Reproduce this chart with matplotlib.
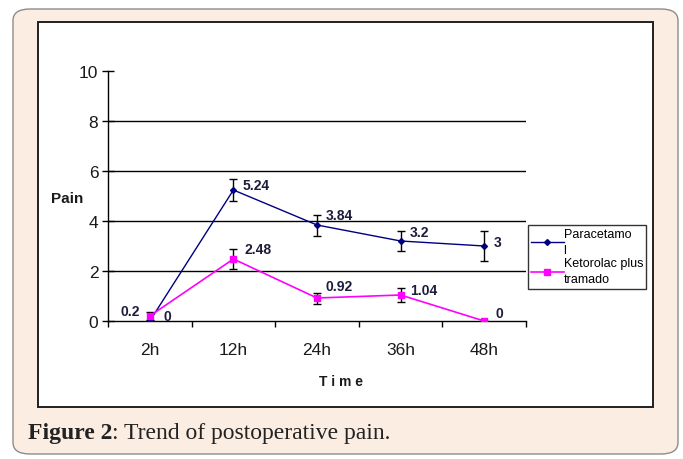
import numpy as np
import matplotlib.pyplot as plt
from matplotlib.patches import FancyBboxPatch, Rectangle
from matplotlib.lines import Line2D

times = ["2h", "12h", "24h", "36h", "48h"]
paracetamol = [0, 5.24, 3.84, 3.2, 3]
paracetamol_err = [0, 0.45, 0.42, 0.4, 0.6]
ketorolac = [0.2, 2.48, 0.92, 1.04, 0]
ketorolac_err = [0.15, 0.4, 0.22, 0.28, 0]

W, H = 683, 460
fig = plt.figure(figsize=(W / 100, H / 100), dpi=100)
fig.patch.set_facecolor("white")

def px(x, y):
    # pixel position (from top-left) -> figure fraction
    return x / W, 1 - y / H

# page background card
card = FancyBboxPatch(px(13, 455), (678 - 13) / W, (455 - 10) / H,
                      boxstyle="round,pad=0,rounding_size=0.025",
                      transform=fig.transFigure, facecolor="#fcede2",
                      edgecolor="#8c8c8c", linewidth=1.0, zorder=-2)
fig.patches.append(card)
inner = Rectangle(px(38, 408), (653 - 38) / W, (408 - 23) / H,
                  transform=fig.transFigure, facecolor="white",
                  edgecolor="#202020", linewidth=1.4, zorder=-1)
fig.patches.append(inner)

cap1 = fig.text(28 / W, 1 - 434 / H, "Figure 2", fontsize=17, fontweight="bold",
                family="Liberation Serif", color="#222222", va="center")
renderer = fig.canvas.get_renderer()
x_end = cap1.get_window_extent(renderer).x1
fig.text(x_end / W, 1 - 434 / H, ": Trend of postoperative pain.", fontsize=17,
         family="Liberation Serif", color="#222222", va="center")

l, b = px(108, 322)
r, t = px(526, 72)
ax = fig.add_axes([l, b, r - l, t - b])
ax.set_facecolor("none")
ax.set_zorder(2)
x = np.arange(len(times))

ax.set_ylim(0, 10)
ax.set_xlim(-0.5, len(times) - 0.5)
for g in [2, 4, 6, 8]:
    ax.axhline(g, color="black", lw=1.0, zorder=1)

ax.errorbar(x, paracetamol, yerr=paracetamol_err, color="#000080", lw=1.0,
            marker="D", ms=3, ecolor="black", elinewidth=1.0, capsize=3,
            capthick=1.0, zorder=3)
ax.errorbar(x, ketorolac, yerr=ketorolac_err, color="#ff00ff", lw=1.2,
            marker="s", ms=4, ecolor="black", elinewidth=1.0, capsize=3,
            capthick=1.0, zorder=3)

lab = dict(fontsize=10, fontweight="bold", color="#1c1c3c",
           family="Liberation Sans", textcoords="offset points", va="center")
para_off = [(10, 3.6), (6.5, 3.6), (6.5, 7.2), (6.5, 6.5), (6.5, 3)]
keto_off = [(-7, 3.6), (8, 7.2), (6, 8.6), (6.5, 3.6), (8, 5.8)]
for i, v in enumerate(paracetamol):
    ax.annotate(f"{v:g}", (x[i], v), xytext=para_off[i], ha="left", **lab)
for i, v in enumerate(ketorolac):
    ax.annotate(f"{v:g}", (x[i], v), xytext=keto_off[i],
                ha="right" if i == 0 else "left", **lab)

for s in ["top", "right"]:
    ax.spines[s].set_visible(False)
ax.spines["left"].set_linewidth(1.0)
ax.spines["bottom"].set_linewidth(1.0)
ax.set_yticks([0, 2, 4, 6, 8, 10])
ax.tick_params(axis="y", direction="inout", length=8, width=1.0,
               labelsize=12.5, pad=3)
ax.set_xticks(np.arange(len(times) + 1) - 0.5)
ax.set_xticklabels([])
ax.set_xticks(x, minor=True)
ax.set_xticklabels(times, minor=True)
ax.tick_params(axis="x", which="major", direction="out", length=4.5, width=1.0)
ax.tick_params(axis="x", which="minor", length=0, labelsize=12.5, pad=15)
for tl in ax.get_yticklabels() + ax.get_xticklabels(minor=True):
    tl.set_family("Liberation Sans")
    tl.set_color("#1a1a1a")

fig.text(*px(67, 199), "Pain", fontsize=11, fontweight="bold",
         family="Liberation Sans", color="#1a1a1a", ha="center", va="center")
fig.text(*px(341, 382), "T i m e", fontsize=10, fontweight="bold",
         family="Liberation Sans", color="#1a1a1a", ha="center", va="center")

handles = [Line2D([], [], color="#000080", lw=1.0, marker="D", ms=3),
           Line2D([], [], color="#ff00ff", lw=1.2, marker="s", ms=4)]
leg = ax.legend(handles, ["Paracetamo\nl", "Ketorolac plus\ntramado"],
                loc="upper left", bbox_to_anchor=px(528, 226),
                bbox_transform=fig.transFigure, frameon=True, fancybox=False,
                edgecolor="black", prop={"family": "Liberation Sans", "size": 9},
                handlelength=2.6, handletextpad=0.0, borderpad=0.25,
                labelspacing=0.1, borderaxespad=0)
for txt in leg.get_texts():
    txt.set_linespacing(1.45)
leg.get_frame().set_linewidth(1.0)

fig.savefig("out.png", dpi=100)
